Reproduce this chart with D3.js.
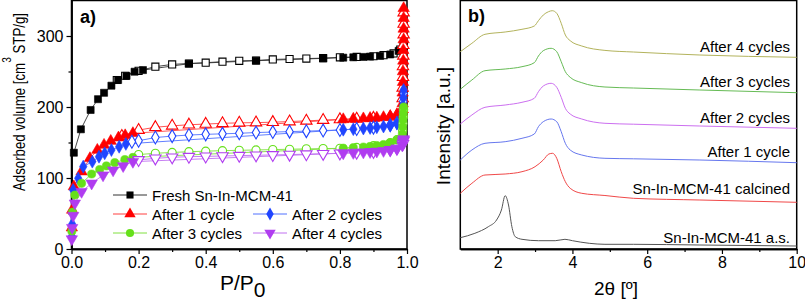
<!DOCTYPE html>
<html><head><meta charset="utf-8">
<script src="https://cdn.jsdelivr.net/npm/d3@7"></script>
<style>
body{margin:0;background:#fff}
svg{display:block}
text{font-family:"Liberation Sans",Arial,Helvetica,sans-serif;fill:#000}
</style>
</head><body>
<svg id="c" width="805" height="302"></svg>
<script>
// ---------- tick labels ----------
const isoXTicks = [0, 0.2, 0.4, 0.6, 0.8, 1.0];
const isoXMinor = [0.1, 0.3, 0.5, 0.7, 0.9];
const isoYTicks = [0, 100, 200, 300];
const isoYMinor = [50, 150, 250];
const xrdXTicks = [2, 4, 6, 8, 10];
const xrdXMinor = [3, 5, 7, 9];

// ---------- isotherm series (P/P0, adsorbed volume) ----------
const isoNames = ["Fresh Sn-In-MCM-41", "After 1 cycle", "After 2 cycles", "After 3 cycles", "After 4 cycles"];

const freshAds = [[0.007,135.6],[0.028,168.6],[0.057,195.8],[0.079,211],[0.097,220],[0.119,230],[0.139,238],[0.164,243.7],[0.188,249.7],[0.213,252],[0.35,261],[0.55,265.2],[0.75,268.5],[0.81,269.5],[0.84,270],[0.87,270.5],[0.89,271],[0.92,272],[0.95,274],[0.975,279],[0.99,286]];
const freshDes = [[0.99,286],[0.98,281],[0.96,275.5],[0.93,273],[0.9,271.5],[0.85,270.5],[0.8,270],[0.75,268.8],[0.7,268.2],[0.65,267.6],[0.6,267],[0.55,265.5],[0.5,265],[0.45,263.8],[0.4,262.4],[0.35,261.3],[0.3,260],[0.25,256.8],[0.2,251],[0.16,244],[0.135,238]];

const c1Ads = [[0.001,30],[0.002,55],[0.007,88],[0.03,109],[0.055,127.7],[0.077,139.4],[0.097,146.5],[0.117,152],[0.14,156.8],[0.16,160],[0.183,163],[0.81,182.6],[0.84,183.2],[0.87,183.8],[0.89,184.3],[0.91,184.8],[0.93,185.5],[0.95,186.5],[0.97,188.5],[0.985,192],[0.987,205],[0.987,220],[0.988,235],[0.988,250],[0.989,265],[0.989,280],[0.99,295],[0.99,310],[0.99,325],[0.99,339]];
const c1Des = [[0.99,333],[0.99,317],[0.99,302],[0.989,287],[0.989,272],[0.988,257],[0.988,242],[0.987,227],[0.987,212],[0.986,197],[0.97,189],[0.95,186.5],[0.9,184.5],[0.85,183.3],[0.8,182.5],[0.75,181.5],[0.7,180.5],[0.65,179.5],[0.6,178.6],[0.55,178],[0.5,177.7],[0.45,177],[0.4,176],[0.35,175],[0.3,173.5],[0.25,171.5],[0.2,167.5],[0.15,159]];

const c2Ads = [[0.001,18],[0.002,35],[0.005,83],[0.02,99.5],[0.035,116],[0.062,123],[0.082,130],[0.099,134.8],[0.119,139.4],[0.142,144],[0.162,148],[0.81,168],[0.84,168.8],[0.87,169.7],[0.89,170.5],[0.91,171.5],[0.93,172.5],[0.95,174],[0.97,177],[0.986,182],[0.987,192],[0.988,202],[0.989,213],[0.99,224]];
const c2Des = [[0.99,219],[0.989,208],[0.988,197],[0.987,187],[0.97,177.5],[0.95,174.5],[0.9,171],[0.85,169],[0.8,167.6],[0.75,166.8],[0.7,166],[0.65,165.3],[0.6,164.7],[0.55,164],[0.5,163],[0.45,162.2],[0.4,161.5],[0.35,160.5],[0.3,159],[0.25,157],[0.2,152.5],[0.18,151]];

const c3Ads = [[0.001,25],[0.003,52],[0.01,76],[0.03,92.5],[0.06,105.6],[0.084,112],[0.104,117],[0.129,121.6],[0.159,126],[0.183,129],[0.81,142],[0.84,142.8],[0.87,143.6],[0.89,144.5],[0.91,145.8],[0.93,147.2],[0.95,149.5],[0.97,153.5],[0.986,162],[0.987,172],[0.988,182],[0.989,191],[0.99,200]];
const c3Des = [[0.99,196],[0.989,186],[0.988,177],[0.987,167],[0.97,154],[0.95,150],[0.9,145.5],[0.85,143],[0.8,141.8],[0.75,141.4],[0.7,141],[0.65,140.5],[0.6,140],[0.55,139.5],[0.5,139],[0.45,138.5],[0.4,137.8],[0.35,137],[0.3,136],[0.25,134.8],[0.2,133]];

const c4Ads = [[0.001,14],[0.002,30],[0.005,47],[0.01,64.4],[0.03,80.7],[0.06,92.5],[0.094,104],[0.124,111],[0.154,117],[0.183,123],[0.81,135],[0.84,135.5],[0.87,136.2],[0.89,136.8],[0.91,137.5],[0.93,138.3],[0.95,139.5],[0.97,141.5],[0.986,146],[0.988,151],[0.99,155]];
const c4Des = [[0.99,153],[0.988,148],[0.97,141.5],[0.95,139.5],[0.9,137],[0.85,135.8],[0.8,134.8],[0.75,134.2],[0.7,133.6],[0.65,133],[0.6,132.5],[0.55,132],[0.5,131.5],[0.45,131],[0.4,130.5],[0.35,130],[0.3,129.2],[0.25,127.7],[0.2,125.5]];

// ---------- XRD patterns (2theta, intensity a.u., stacked) ----------
const xrdNames = ["Sn-In-MCM-41 a.s.", "Sn-In-MCM-41 calcined", "After 1 cycle", "After 2 cycles", "After 3 cycles", "After 4 cycles"];
const xrdAs = [[1.0,11.3],[1.39,15.7],[1.75,22.3],[1.97,29],[2.1,39],[2.2,53.3],[2.29,44],[2.38,22.3],[2.47,12.3],[2.65,9.7],[3.09,8.3],[3.54,8.3],[3.8,9.7],[4.0,8.3],[4.45,5.7],[4.87,4.7],[5.63,4.7],[7.41,4],[10,3]];
const xrdCalc = [[1.0,55.7],[1.31,65.7],[1.66,74],[2.2,75],[2.65,77.3],[3.0,82.3],[3.22,89],[3.37,95],[3.47,95.7],[3.58,90.7],[3.70,77.3],[3.81,67.3],[3.94,60.7],[4.25,55.7],[4.87,53.5],[5.63,50.7],[7.41,49],[10,46.7]];
const xrd1 = [[1.0,89],[1.31,99],[1.66,105.7],[2.2,107.3],[2.65,110.7],[2.98,115],[3.09,122.3],[3.22,127.3],[3.43,130],[3.58,127.3],[3.70,117.3],[3.81,105.7],[3.94,99],[4.25,94],[4.87,90.7],[5.63,90.2],[7.41,89],[10,86.3]];
const xrd2 = [[1.0,125],[1.31,134],[1.66,141.7],[2.2,144],[2.65,146.7],[2.98,150.7],[3.09,157.3],[3.22,163],[3.43,165.7],[3.58,161.7],[3.70,151.7],[3.81,140.7],[3.94,135],[4.25,130],[4.87,125.7],[5.63,124.8],[7.41,123],[10,120.7]];
const xrd3 = [[1.0,159.7],[1.31,169],[1.66,178.3],[2.2,180],[2.65,182.3],[2.98,186.3],[3.09,193],[3.22,198.3],[3.43,200.7],[3.58,197.3],[3.70,187.3],[3.81,177.3],[3.94,171.7],[4.25,166.3],[4.87,162],[5.63,161],[7.41,159],[10,156.3]];
const xrd4 = [[1.0,197.3],[1.31,205.7],[1.66,214.7],[2.2,217],[2.65,219.7],[2.98,223],[3.09,228.3],[3.22,234],[3.36,237.3],[3.46,238.3],[3.58,235.7],[3.70,225.7],[3.81,214],[3.94,208.3],[4.25,203],[4.87,198.6],[5.63,197],[7.41,194],[10,191.7]];

// ---------- drawing ----------
const svg = d3.select("#c");
const FONT = 15;
const TICKFONT = 16;

// ===== Panel a =====
const xA = d3.scaleLinear().domain([0, 1]).range([71.5, 407]);
const yA = d3.scaleLinear().domain([0, 350]).range([249, 0.5]);
const gA = svg.append("g");

gA.append("g").attr("transform", "translate(0,249)")
  .call(d3.axisBottom(xA).tickValues(isoXTicks).tickFormat(d3.format(".1f")).tickSize(5).tickSizeOuter(0).tickPadding(3));
gA.append("g").attr("transform", "translate(0,249)")
  .call(d3.axisBottom(xA).tickValues(isoXMinor).tickFormat("").tickSize(3).tickSizeOuter(0));
gA.append("g").attr("transform", "translate(71.5,0)")
  .call(d3.axisLeft(yA).tickValues(isoYTicks).tickSize(5).tickSizeOuter(0).tickPadding(3));
gA.append("g").attr("transform", "translate(71.5,0)")
  .call(d3.axisLeft(yA).tickValues(isoYMinor).tickFormat("").tickSize(3).tickSizeOuter(0));

gA.append("rect").attr("x", xA(0)).attr("y", yA(350)).attr("width", xA(1) - xA(0)).attr("height", yA(0) - yA(350))
  .attr("fill", "none").attr("stroke", "#000").attr("stroke-width", 1.5);

const shapes = {
  square: d3.symbol().type(d3.symbolSquare).size(50)(),
  tri: d3.symbol().type(d3.symbolTriangle).size(56)(),
  diamond: d3.symbol().type(d3.symbolDiamond).size(48)(),
  circle: d3.symbol().type(d3.symbolCircle).size(52)(),
  down: d3.symbol().type(d3.symbolTriangle).size(56)()
};
function symTransform(shape, x, y) {
  return shape === "down" ? `translate(${x},${y}) rotate(180)` : `translate(${x},${y})`;
}

const isoSeries = [
  {ads: freshAds, des: freshDes, color: "#000000", line: "#333", shape: "square"},
  {ads: c1Ads, des: c1Des, color: "#ff0000", line: "#ff4040", shape: "tri"},
  {ads: c2Ads, des: c2Des, color: "#1f44ff", line: "#5070ff", shape: "diamond"},
  {ads: c3Ads, des: c3Des, color: "#66e01a", line: "#80e040", shape: "circle"},
  {ads: c4Ads, des: c4Des, color: "#b03cf0", line: "#c070f0", shape: "down"}
];
const lineA = d3.line().x(d => xA(d[0])).y(d => yA(d[1]));
const plotA = gA.append("g");
isoSeries.forEach(s => {
  plotA.append("path").datum(s.des).attr("d", lineA).attr("fill", "none").attr("stroke", s.line).attr("stroke-width", 0.9);
  plotA.append("path").datum(s.ads).attr("d", lineA).attr("fill", "none").attr("stroke", s.line).attr("stroke-width", 0.9);
});
isoSeries.forEach(s => {
  plotA.selectAll(null).data(s.des).enter().append("path")
    .attr("d", shapes[s.shape]).attr("transform", d => symTransform(s.shape, xA(d[0]), yA(d[1])))
    .attr("fill", "#fff").attr("stroke", s.color).attr("stroke-width", 1.1);
  plotA.selectAll(null).data(s.ads).enter().append("path")
    .attr("d", shapes[s.shape]).attr("transform", d => symTransform(s.shape, xA(d[0]), yA(d[1])))
    .attr("fill", s.color).attr("stroke", s.color).attr("stroke-width", 0.6);
});

// legend
const legPos = [[113, 195], [113, 214], [253, 214], [113, 233], [253, 233]];
isoSeries.forEach((s, i) => {
  const [lx, ly] = legPos[i];
  gA.append("line").attr("x1", lx).attr("x2", lx + 34).attr("y1", ly).attr("y2", ly).attr("stroke", s.line).attr("stroke-width", 1);
  gA.append("path").attr("d", shapes[s.shape]).attr("transform", symTransform(s.shape, lx + 17, ly)).attr("fill", s.color);
  gA.append("text").attr("x", lx + 39).attr("y", ly + 5.5).attr("font-size", FONT).text(isoNames[i]);
});

gA.append("text").attr("x", 80).attr("y", 23).attr("font-size", 18).attr("font-weight", "bold").text("a)");
const yl = gA.append("text").attr("transform", "translate(25,102) rotate(-90) scale(0.78,1)")
  .attr("text-anchor", "middle").attr("font-size", 17);
yl.append("tspan").text("Adsorbed volume [cm");
yl.append("tspan").attr("dy", -14).attr("font-size", 13).text("3");
yl.append("tspan").attr("dy", 14).text(" STP/g]");
const xl = gA.append("text").attr("x", 220).attr("y", 290).attr("font-size", 21);
xl.append("tspan").text("P/P");
xl.append("tspan").attr("dy", 6.7).text("0");

// ===== Panel b =====
const xB = d3.scaleLinear().domain([1, 10]).range([460.3, 796.7]);
const yB = d3.scaleLinear().domain([0, 249]).range([249, 0]);
const gB = svg.append("g");
gB.append("g").attr("transform", "translate(0,249)")
  .call(d3.axisBottom(xB).tickValues(xrdXTicks).tickFormat(d3.format("d")).tickSize(5).tickSizeOuter(0).tickPadding(3));
gB.append("g").attr("transform", "translate(0,249)")
  .call(d3.axisBottom(xB).tickValues(xrdXMinor).tickFormat("").tickSize(3).tickSizeOuter(0));
gB.append("rect").attr("x", xB(1)).attr("y", 0.5).attr("width", xB(10) - xB(1)).attr("height", 248.5)
  .attr("fill", "none").attr("stroke", "#000").attr("stroke-width", 1.5);

const xrdSeries = [
  {data: xrdAs, color: "#555555", ly: 242.7},
  {data: xrdCalc, color: "#f04848", ly: 194.3},
  {data: xrd1, color: "#6677ee", ly: 157},
  {data: xrd2, color: "#cc6ff0", ly: 122.5},
  {data: xrd3, color: "#66bb55", ly: 86.5},
  {data: xrd4, color: "#b3b35c", ly: 52}
];
const lineB = d3.line().x(d => xB(d[0])).y(d => yB(d[1])).curve(d3.curveMonotoneX);
xrdSeries.forEach((s, i) => {
  gB.append("path").datum(s.data).attr("d", lineB).attr("fill", "none").attr("stroke", s.color).attr("stroke-width", 1);
  gB.append("text").attr("x", 790).attr("y", s.ly).attr("text-anchor", "end").attr("font-size", FONT).text(xrdNames[i]);
});
gB.append("text").attr("x", 468).attr("y", 22).attr("font-size", 18).attr("font-weight", "bold").text("b)");
gB.append("text").attr("transform", "translate(450,126) rotate(-90)").attr("text-anchor", "middle")
  .attr("font-size", 19).text("Intensity [a.u.]");
gB.append("text").attr("x", 616).attr("y", 295).attr("text-anchor", "middle").attr("font-size", 19).text("2θ [º]");

svg.selectAll(".tick text").attr("font-size", TICKFONT).attr("font-family", '"Liberation Sans",Arial,sans-serif').attr("fill", "#000");
svg.selectAll(".domain").attr("stroke", "#000").attr("stroke-width", 1.5);
svg.selectAll(".tick line").attr("stroke", "#000").attr("stroke-width", 1.2);
</script>
</body></html>
